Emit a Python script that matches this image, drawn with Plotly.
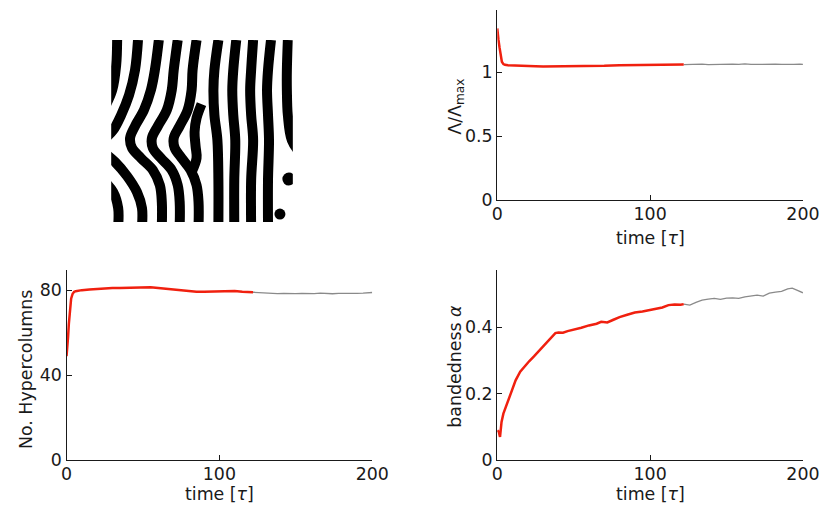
import plotly.graph_objects as go

# ---------------- time series ----------------
# Lambda / Lambda_max
t_lam_red = [0, 0.4, 0.8, 1.5, 2.2, 3, 4, 5, 7, 10, 15, 20, 25, 30, 40, 50, 60, 70, 80, 90, 100, 110, 116, 122]
lam_red = [1.34, 1.31, 1.25, 1.19, 1.13, 1.08, 1.062, 1.056, 1.052, 1.050, 1.050, 1.049, 1.045, 1.043, 1.043, 1.043,
           1.045, 1.048, 1.053, 1.055, 1.057, 1.058, 1.059, 1.058]
t_lam_grey = [122, 126, 130, 134, 138, 142, 146, 150, 154, 158, 162, 166, 170, 174, 178, 182, 186, 190, 194, 198, 200]
lam_grey = [1.058, 1.060, 1.059, 1.061, 1.058, 1.060, 1.062, 1.059, 1.061, 1.060, 1.063, 1.059, 1.061, 1.062, 1.060,
            1.061, 1.059, 1.062, 1.060, 1.061, 1.060]

# Number of hypercolumns
t_hc_red = [0, 0.5, 1, 1.5, 2, 2.5, 3, 4, 5, 6, 8, 10, 15, 20, 25, 30, 35, 40, 45, 50, 55, 60, 65, 70, 75, 80, 85,
            90, 95, 100, 105, 110, 115, 122]
hc_red = [49, 52, 58, 64, 69, 73, 76, 78.3, 79.2, 79.5, 79.8, 80.0, 80.3, 80.6, 80.9, 81.0, 81.0, 81.1, 81.3, 81.6,
          81.4, 81.0, 80.6, 80.2, 79.8, 79.4, 79.3, 79.3, 79.4, 79.3, 79.5, 79.6, 79.3, 79.0]
t_hc_grey = [122, 126, 130, 134, 138, 142, 146, 150, 154, 158, 162, 166, 170, 174, 178, 182, 186, 190, 194, 198, 200]
hc_grey = [79.0, 78.8, 78.9, 78.6, 78.4, 78.5, 78.3, 78.4, 78.5, 78.3, 78.4, 78.6, 78.4, 78.3, 78.5, 78.4, 78.3,
           78.5, 78.6, 78.8, 78.9]

# Bandedness alpha
t_band_red = [0, 1, 1.8, 2.8, 4, 5, 7, 10, 12, 15, 18, 21, 24, 27, 30, 33, 36, 38, 40, 43, 46, 50, 55, 60, 65, 68,
              72, 76, 80, 85, 90, 95, 100, 104, 108, 112, 116, 120, 122]
band_red = [0.090, 0.085, 0.070, 0.115, 0.140, 0.152, 0.180, 0.218, 0.240, 0.266, 0.283, 0.298, 0.312, 0.327,
            0.342, 0.358, 0.372, 0.382, 0.384, 0.383, 0.388, 0.392, 0.398, 0.405, 0.410, 0.416, 0.414, 0.422,
            0.430, 0.437, 0.444, 0.447, 0.452, 0.454, 0.459, 0.466, 0.468, 0.467, 0.469]
t_band_grey = [122, 126, 130, 134, 138, 142, 146, 150, 154, 158, 162, 166, 170, 174, 178, 182, 186, 190, 193, 196, 200]
band_grey = [0.469, 0.466, 0.474, 0.481, 0.484, 0.486, 0.483, 0.487, 0.488, 0.486, 0.491, 0.494, 0.496, 0.493,
             0.502, 0.505, 0.507, 0.515, 0.517, 0.511, 0.503]

x_ticks = [0, 100, 200]
x_ticktext = ["0", "100", "200"]
lam_ticks = [0, 0.5, 1]
lam_ticktext = ["0", "0.5", "1"]
hc_ticks = [0, 40, 80]
hc_ticktext = ["0", "40", "80"]
band_ticks = [0, 0.2, 0.4]
band_ticktext = ["0", "0.2", "0.4"]

# ---------------- stripe pattern (centre lines of the dark bands) ----------------
bend_v = [0, 30, 50, 70, 86, 98, 108, 118, 130, 145, 162, 186]
vert_v = [0, 30, 50, 75, 100, 140, 186]
stripe_u = [
    [6, 5, 1, -8],
    [27, 24, 18, 10, 2, -8],
    [-8, 4, 16, 26, 31, 31],
    [-8, 2, 7, 7],
    [48, 44, 40, 33, 24, 19, 21, 30, 42, 49, 51, 51],
    [67, 63, 61, 56, 47, 41, 42, 50, 61, 67, 69, 69],
    [86, 82, 81, 77, 69, 63, 64, 71, 80, 86, 88, 88],
    [91, 86, 84, 85, 86, 81],
    [108, 104, 103, 104, 107, 108, 108],
    [126, 123, 122, 123, 125, 124, 124],
    [143, 141, 140, 141, 143, 141, 141],
    [161, 158, 157, 158, 159, 158, 158],
    [178, 177, 177, 178, 182, 192],
]
stripe_v = [
    [0, 25, 50, 70],
    [0, 30, 55, 75, 90, 100],
    [112, 122, 136, 152, 168, 186],
    [140, 152, 168, 186],
    bend_v,
    bend_v,
    bend_v,
    [64, 78, 92, 106, 118, 132],
    vert_v,
    vert_v,
    vert_v,
    vert_v,
    [0, 30, 50, 75, 100, 115],
]
dot_u = [179, 170]
dot_v = [139, 174]

RED = "#f0200f"
GREY = "#8a8a8a"
INK = "#1a1a1a"
FONT = "DejaVu Sans"
W, H = 840, 514
# the page shows the paper slightly reduced; map screen pixels to paper fractions
SCALE = 0.98
X_OFF = 2.0
FS = 17.4

fig = go.Figure()


def add_series(t_r, y_r, t_g, y_g, xa, ya):
    fig.add_trace(go.Scatter(x=t_g, y=y_g, mode="lines", xaxis=xa, yaxis=ya,
                             line=dict(color=GREY, width=1.3), showlegend=False, hoverinfo="skip"))
    fig.add_trace(go.Scatter(x=t_r, y=y_r, mode="lines", xaxis=xa, yaxis=ya,
                             line=dict(color=RED, width=2.5), showlegend=False, hoverinfo="skip"))


add_series(t_lam_red, lam_red, t_lam_grey, lam_grey, "x", "y")
add_series(t_hc_red, hc_red, t_hc_grey, hc_grey, "x2", "y2")
add_series(t_band_red, band_red, t_band_grey, band_grey, "x3", "y3")

for su, sv in zip(stripe_u, stripe_v):
    fig.add_trace(go.Scatter(x=su, y=sv, mode="lines", xaxis="x4", yaxis="y4",
                             line=dict(color="black", width=10, shape="spline", smoothing=1.0),
                             showlegend=False, hoverinfo="skip"))
fig.add_trace(go.Scatter(x=dot_u, y=dot_v, mode="markers", xaxis="x4", yaxis="y4", opacity=1,
                         marker=dict(color="black", size=[13, 11], opacity=1, line=dict(width=0)),
                         showlegend=False, hoverinfo="skip"))


def px_x(p):
    return (p - X_OFF) / SCALE / W


def px_y(p):
    return 1 - p / SCALE / H


def axis(domain, rng, tickvals, ticktext, anchor, side, standoff):
    return dict(domain=domain, range=rng, tickvals=tickvals, ticktext=ticktext, anchor=anchor,
                showline=True, linecolor=INK, linewidth=1.3, ticks="inside", ticklen=5, tickwidth=1.2,
                tickcolor=INK, showgrid=False, zeroline=False, fixedrange=True,
                ticklabelstandoff=standoff,
                tickfont=dict(family=FONT, size=FS, color=INK), side=side)


fig.update_layout(
    width=W, height=H, margin=dict(l=0, r=0, t=0, b=0),
    paper_bgcolor="white", plot_bgcolor="white",
    xaxis=axis([px_x(497), px_x(805)], [0, 200], x_ticks, x_ticktext, "y", "bottom", -2),
    yaxis=axis([px_y(200), px_y(10)], [0, 1.484], lam_ticks, lam_ticktext, "x", "left", 0),
    xaxis2=axis([px_x(63), px_x(371)], [0, 200], x_ticks, x_ticktext, "y2", "bottom", -2),
    yaxis2=axis([px_y(460), px_y(270)], [0, 89.4], hc_ticks, hc_ticktext, "x2", "left", 0),
    xaxis3=axis([px_x(497), px_x(805)], [0, 200], x_ticks, x_ticktext, "y3", "bottom", -2),
    yaxis3=axis([px_y(460), px_y(270)], [0, 0.571], band_ticks, band_ticktext, "x3", "left", 0),
    xaxis4=dict(domain=[px_x(108), px_x(291)], range=[0, 183], visible=False, anchor="y4", fixedrange=True),
    yaxis4=dict(domain=[px_y(222), px_y(40)], range=[182, 0], visible=False, anchor="x4", fixedrange=True),
)

tau = "<i>τ</i>"
titles = [
    (651, 238, "time [" + tau + "]", 0),
    (217, 494, "time [" + tau + "]", 0),
    (651, 494, "time [" + tau + "]", 0),
    (455, 107, "Λ/Λ<sub>max</sub>", -90),
    (22, 369, "No. Hypercolumns", -90),
    (455, 366, "bandedness <i>α</i>", -90),
]
for x, y, txt, ang in titles:
    fig.add_annotation(x=px_x(x), y=px_y(y), xref="paper", yref="paper", text=txt, showarrow=False,
                       textangle=ang, xanchor="center", yanchor="middle",
                       font=dict(family=FONT, size=FS, color=INK))

fig.write_html("out.html")
